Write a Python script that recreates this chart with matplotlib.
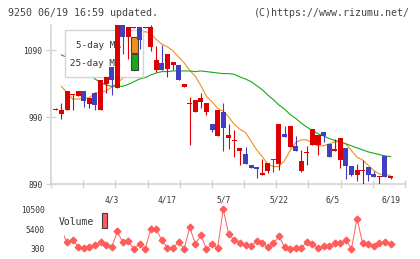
import numpy as np
import matplotlib
matplotlib.use("Agg")
import matplotlib.pyplot as plt
from matplotlib.patches import Rectangle

# daily prices (open, high, low, close), oldest first
opens = [1001, 994, 1000, 1023, 1022, 1029, 1010, 1026, 1000, 1040,
         1065, 1034, 1128, 1110, 1123, 1124, 1123, 1095, 1060, 1071,
         1062, 1068, 1068, 1035, 1010, 997, 1013, 998, 980, 962,
         998, 959, 955, 940, 935, 918, 916, 903, 909, 927,
         920, 965, 945, 947, 909, 936, 948, 948, 968, 950,
         939, 926, 944, 917, 903, 910, 915, 905, 901, 932, 899]
highs = [1003, 1011, 1029, 1024, 1029, 1029, 1019, 1027, 1045, 1050,
         1065, 1130, 1130, 1124, 1124, 1124, 1124, 1128, 1097, 1098,
         1084, 1072, 1068, 1040, 1020, 1016, 1026, 1011, 980, 1001,
         1011, 980, 971, 944, 945, 918, 916, 928, 921, 927,
         980, 977, 977, 962, 941, 947, 972, 963, 968, 950,
         957, 959, 944, 917, 920, 926, 915, 909, 902, 932, 902]
lows = [1001, 987, 1000, 1000, 1022, 1005, 1004, 1000, 1000, 1026,
        1023, 1034, 1084, 1077, 1123, 1092, 1123, 1089, 1057, 1061,
        1050, 1061, 1046, 1035, 949, 997, 1004, 993, 968, 962,
        939, 942, 930, 918, 920, 914, 899, 903, 906, 908,
        911, 961, 945, 939, 908, 918, 948, 933, 953, 930,
        939, 914, 897, 902, 894, 890, 894, 900, 890, 900, 897]
closes = [1002, 1001, 1029, 1024, 1029, 1014, 1019, 1008, 1045, 1050,
          1045, 1128, 1110, 1124, 1124, 1106, 1124, 1124, 1075, 1061,
          1084, 1072, 1046, 1040, 1011, 1016, 1019, 1011, 970, 1001,
          974, 963, 956, 944, 920, 914, 913, 906, 921, 926,
          980, 961, 977, 939, 924, 937, 972, 963, 962, 930,
          942, 959, 917, 903, 911, 911, 903, 900, 902, 900, 902]

# moving averages (from the 2nd day on)
ma5 = [1036, 1026, 1017, 1017, 1018, 1019, 1026, 1027, 1029, 1035,
       1041, 1048, 1075, 1098, 1112, 1118, 1115, 1106, 1099, 1095,
       1089, 1080, 1071, 1060, 1051, 1037, 1021, 1013, 1003, 999,
       990, 979, 972, 967, 954, 941, 931, 920, 916, 916,
       925, 940, 952, 956, 956, 951, 947, 947, 950, 953,
       953, 950, 940, 930, 926, 918, 910, 905, 904, 903]
ma25 = [1083, 1079, 1074, 1068, 1062, 1055, 1047, 1042, 1038, 1036,
        1036, 1036, 1039, 1043, 1047, 1049, 1053, 1056, 1058, 1058,
        1059, 1059, 1059, 1059, 1058, 1059, 1058, 1057, 1056, 1055,
        1055, 1054, 1050, 1047, 1043, 1037, 1031, 1023, 1016, 1008,
        1002, 994, 988, 981, 975, 970, 965, 962, 958, 955,
        953, 950, 947, 944, 941, 938, 936, 934, 932, 931]

# volume (from the 2nd day on)
volume = [5000, 2000, 2670, 730, 480, 730, 1240, 2000, 1240, 730,
          4810, 2000, 2340, 250, 1580, 250, 5320, 5320, 2520, 630,
          630, 2090, 380, 5830, 1580, 3790, 250, 1580, 480, 10500,
          4050, 2600, 1900, 1320, 990, 2260, 1830, 730, 1750, 3540,
          730, 250, 630, 630, 2090, 1580, 480, 990, 990, 1900,
          1900, 2520, 380, 8130, 1750, 1580, 990, 1900, 2160, 1580]

date_pos = [10, 20, 30, 40, 49.6, 60]
date_labels = ['4/3', '4/17', '5/7', '5/22', '6/5', '6/19']
price_ticks = [890, 990, 1090]
vol_ticks = [300, 5400, 10500]

RED = '#dd0000'
BLUE = '#3f3fbf'
ORANGE = '#f0901a'
GREEN = '#18a818'
VOLC = '#ff5c5c'
GRID = '#d4d4d4'
TXT = '#333333'
MONO = 'DejaVu Sans Mono'

W, H = 420, 259
fig = plt.figure(figsize=(W / 100, H / 100), dpi=100)


def box(l, t, r, b):
    return [l / W, 1 - b / H, (r - l) / W, (b - t) / H]


ax = fig.add_axes(box(51, 25, 405, 184))
x = np.arange(len(closes))
xs = x[1:]

# MA lines underneath the legend box
ax.plot(xs, ma5, color=ORANGE, lw=0.8, zorder=1)
ax.plot(xs, ma25, color=GREEN, lw=0.8, zorder=1)

# candles
o = np.array(opens); c = np.array(closes)
up = c >= o
cols = np.where(up, RED, BLUE)
ax.vlines(x, lows, highs, colors=cols, lw=0.8, zorder=3)
body = np.maximum(np.abs(c - o), 1.5)
ax.bar(x, body, bottom=np.minimum(o, c), width=0.9, color=cols,
       linewidth=0, zorder=3)

ax.set_xlim(-0.88, 62.6)
ax.set_ylim(890, 1127.7)
for s in ['top', 'right']:
    ax.spines[s].set_visible(False)
for s in ['left', 'bottom']:
    ax.spines[s].set_color(GRID)
    ax.spines[s].set_linewidth(1.2)

ax.set_xticks(np.linspace(-0.88, 62.6, 12))
ax.set_xticklabels([])
ax.tick_params(axis='x', which='major', direction='inout', length=6,
               width=1, color=GRID)
ax.set_xticks(date_pos, minor=True)
ax.set_xticklabels(date_labels, minor=True, fontsize=5.7, family=MONO,
                   color=TXT)
ax.tick_params(axis='x', which='minor', length=0, pad=8)
ax.set_yticks(price_ticks)
ax.set_yticklabels([str(v) for v in price_ticks], fontsize=5.7,
                   family=MONO, color=TXT)
ax.tick_params(axis='y', direction='inout', length=6.5, width=1,
               color=GRID, pad=3)

# legend box
def fr(px, py):
    return ((px - 51) / 354, (184 - py) / 159)

lx0, ly0 = fr(65.3, 77.3)
lx1, ly1 = fr(143.3, 30)
ax.add_patch(Rectangle((lx0, ly0), lx1 - lx0, ly1 - ly0, transform=ax.transAxes,
                       facecolor='white', edgecolor=GRID, lw=1.0, zorder=2))
for label, py in [('5-day MA', 46), ('25-day MA', 63.3)]:
    tx, ty = fr(121, py)
    ax.text(tx, ty, label, transform=ax.transAxes, ha='right', va='center',
            fontsize=6.7, family=MONO, color=TXT, zorder=2.2)
for colr, t, b in [(ORANGE, 37.3, 53.3), (GREEN, 54, 70)]:
    sx0, sy0 = fr(131, b)
    sx1, sy1 = fr(137.5, t)
    ax.add_patch(Rectangle((sx0, sy0), sx1 - sx0, sy1 - sy0,
                           transform=ax.transAxes, facecolor=colr,
                           edgecolor='#404040', lw=0.8, zorder=2.3))

# volume panel
vax = fig.add_axes(box(64, 205, 405, 253))
vax.plot(xs, volume, color=VOLC, lw=0.7, zorder=2)
vax.plot(xs[1:], volume[1:], ls='none', marker='D', ms=3.4, color=VOLC,
         zorder=3)
vax.set_xlim(1.45, 62.6)
vax.set_ylim(300 - 4 * 256.9, 300 + 44 * 256.9)
for s in vax.spines.values():
    s.set_visible(False)
vax.set_xticks([])
vax.set_yticks(vol_ticks)
vax.set_yticklabels([str(v) for v in vol_ticks], fontsize=5.7,
                    family=MONO, color=TXT)
vax.tick_params(axis='y', length=0, pad=14)
vax.patch.set_alpha(0)

fig.text(58.7 / W, 1 - 221.7 / H, 'Volume', fontsize=7.0, family=MONO,
         color=TXT, va='center', ha='left')
fig.add_artist(Rectangle((101.7 / W, 1 - 228.3 / H), 5.6 / W, 15 / H,
                         transform=fig.transFigure, facecolor=VOLC,
                         edgecolor='#404040', lw=0.8))

fig.text(8 / W, 1 - 12.5 / H, '9250 06/19 16:59 updated.', fontsize=7.2,
         family=MONO, color='#444444', va='center', ha='left')
fig.text(410 / W, 1 - 12.5 / H, '(C)https://www.rizumu.net/', fontsize=7.2,
         family=MONO, color='#444444', va='center', ha='right')

fig.savefig('out.png', dpi=100)
